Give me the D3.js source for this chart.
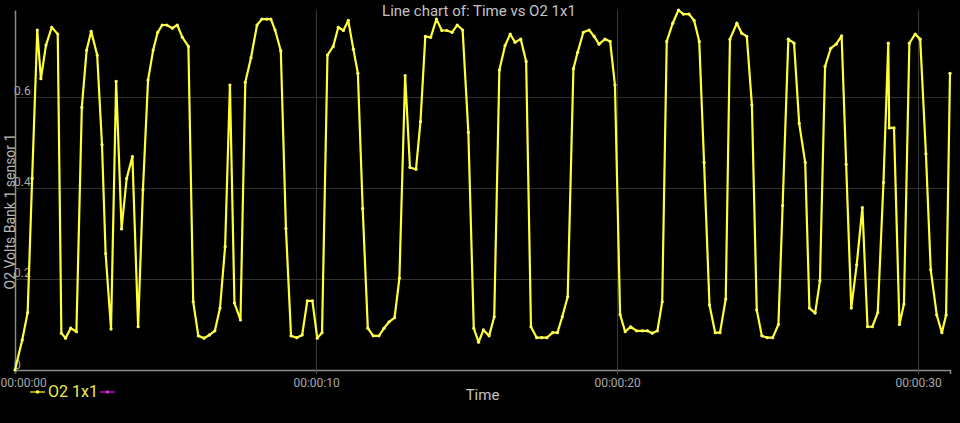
<!DOCTYPE html>
<html><head><meta charset="utf-8">
<script src="https://cdn.jsdelivr.net/npm/d3@7/dist/d3.min.js"></script>
<style>
body{margin:0;background:#000;overflow:hidden;}
svg{display:block;font-family:Roboto, "Noto Sans", sans-serif;}
</style>
</head><body>
<svg id="chart" width="960" height="423"></svg>
<script>
// ---- data ----
const times = [0.00,0.24,0.42,0.57,0.74,0.86,1.03,1.22,1.42,1.54,1.68,1.85,2.04,2.22,2.38,2.53,2.73,2.89,3.01,3.19,
3.36,3.54,3.71,3.90,4.09,4.25,4.42,4.59,4.74,4.89,5.04,5.23,5.39,5.56,5.76,5.92,6.09,6.28,6.46,6.64,
6.81,6.98,7.14,7.29,7.49,7.65,7.84,8.04,8.20,8.36,8.50,8.64,8.83,9.00,9.17,9.36,9.54,9.71,9.88,10.04,
10.20,10.38,10.57,10.74,10.91,11.07,11.24,11.39,11.55,11.72,11.90,12.09,12.26,12.43,12.61,12.77,12.96,13.12,13.32,13.47,
13.63,13.81,14.00,14.18,14.34,14.52,14.69,14.87,15.06,15.24,15.40,15.56,15.75,15.92,16.09,16.28,16.45,16.61,16.80,16.98,
17.14,17.33,17.50,17.67,17.86,18.02,18.18,18.36,18.55,18.69,18.88,19.07,19.24,19.40,19.60,19.77,19.93,20.10,20.27,20.45,
20.65,20.84,21.01,21.17,21.34,21.50,21.65,21.85,22.04,22.20,22.39,22.56,22.73,22.89,23.07,23.26,23.42,23.61,23.75,23.98,
24.14,24.31,24.48,24.64,24.81,24.99,25.17,25.36,25.50,25.69,25.88,26.05,26.25,26.39,26.58,26.74,26.91,27.10,27.28,27.46,
27.61,27.78,27.96,28.15,28.32,28.48,28.66,28.85,29.01,29.04,29.20,29.38,29.53,29.71,29.90,30.07,30.26,30.42,30.62,30.79,
30.93,31.06];
const o2Values = [0.000,0.066,0.126,0.421,0.747,0.640,0.714,0.753,0.738,0.081,0.070,0.092,0.084,0.577,0.703,0.744,0.692,0.495,0.256,0.090,
0.634,0.310,0.421,0.469,0.095,0.396,0.637,0.703,0.742,0.758,0.758,0.751,0.758,0.731,0.711,0.150,0.075,0.070,0.077,0.086,
0.136,0.271,0.626,0.147,0.110,0.632,0.686,0.758,0.771,0.771,0.771,0.747,0.701,0.311,0.075,0.071,0.077,0.152,0.152,0.070,
0.082,0.692,0.711,0.753,0.746,0.768,0.705,0.652,0.355,0.092,0.075,0.075,0.092,0.106,0.115,0.202,0.647,0.445,0.441,0.546,
0.733,0.731,0.771,0.746,0.746,0.742,0.758,0.747,0.522,0.092,0.061,0.088,0.075,0.117,0.659,0.713,0.738,0.720,0.727,0.678,
0.095,0.071,0.071,0.071,0.082,0.082,0.117,0.161,0.662,0.698,0.742,0.747,0.733,0.716,0.727,0.722,0.626,0.122,0.084,0.095,
0.086,0.086,0.086,0.081,0.086,0.150,0.722,0.762,0.791,0.782,0.782,0.768,0.722,0.456,0.143,0.082,0.082,0.156,0.727,0.762,
0.740,0.733,0.582,0.132,0.075,0.071,0.071,0.100,0.361,0.727,0.718,0.542,0.456,0.136,0.125,0.196,0.667,0.707,0.716,0.734,
0.452,0.136,0.231,0.357,0.095,0.095,0.126,0.412,0.718,0.532,0.532,0.100,0.145,0.718,0.738,0.727,0.475,0.220,0.121,0.082,
0.121,0.652];
const xTickValues = [0, 10, 20, 30];
const yTickValues = [0, 0.2, 0.4, 0.6];
const seriesNames = ["O2 1x1", ""];
const chartTitle = "Line chart of: Time vs O2 1x1";
const xTitle = "Time";
const yTitle = "O2 Volts Bank 1 sensor 1";

// ---- layout ----
const W = 960, H = 423;
const m = {left: 15, right: 10, top: 10, bottom: 53};
const svg = d3.select("#chart");
svg.append("rect").attr("width", W).attr("height", H).attr("fill", "#000");

const data = times.map((t, i) => ({t, v: o2Values[i]}));
const x = d3.scaleLinear().domain([0, d3.max(times)]).range([m.left, W - m.right]);
const y = d3.scaleLinear().domain([0, d3.max(o2Values)]).range([H - m.bottom, m.top]);

const pad = n => String(n).padStart(2, "0");
const fmtTime = s => `${pad(Math.floor(s / 3600))}:${pad(Math.floor(s / 60) % 60)}:${pad(Math.round(s) % 60)}`;

// grid
const gx = svg.append("g").attr("transform", `translate(0,${H - m.bottom})`)
  .call(d3.axisBottom(x).tickValues(xTickValues.filter(d => d > 0)).tickSize(-(H - m.bottom - m.top)).tickFormat(""));
gx.select(".domain").remove();
gx.selectAll("line").attr("stroke", "#3a3a3a").attr("stroke-width", 1);

const gy = svg.append("g").attr("transform", `translate(${m.left},0)`)
  .call(d3.axisLeft(y).tickValues(yTickValues.filter(d => d > 0)).tickSize(-(W - m.left - m.right)).tickFormat(""));
gy.select(".domain").remove();
gy.selectAll("line").attr("stroke", "#333").attr("stroke-width", 1);

// axes
const ax = svg.append("g").attr("transform", `translate(0,${H - m.bottom})`)
  .call(d3.axisBottom(x).tickValues(xTickValues).tickSize(4).tickPadding(4).tickFormat(fmtTime));
ax.select(".domain").attr("stroke", "#8a8a8a").attr("stroke-width", 1.5);
ax.selectAll(".tick line").attr("stroke", "#555");
ax.selectAll("text").attr("fill", "#a8a8a8").attr("font-size", 12).attr("font-family", "Roboto, sans-serif");
// keep the first label inside the page edge
ax.selectAll(".tick text").filter(d => d === 0).attr("text-anchor", "start").attr("x", 0 - m.left);

const ay = svg.append("g").attr("transform", `translate(${m.left},0)`)
  .call(d3.axisRight(y).tickValues(yTickValues).tickSize(0).tickPadding(-1).tickFormat(d => d === 0 ? "0" : d3.format(".1f")(d)));
ay.select(".domain").attr("stroke", "#8a8a8a").attr("stroke-width", 1.5);
ay.selectAll("text").attr("fill", "#a8a8a8").attr("font-size", 12).attr("dy", "-2px").attr("font-family", "Roboto, sans-serif");

// line
const yellow = "#ffff33";
svg.append("path").datum(data)
  .attr("fill", "none").attr("stroke", yellow).attr("stroke-width", 2.2).attr("stroke-linejoin", "round")
  .attr("d", d3.line().x(d => x(d.t)).y(d => y(d.v)));
svg.append("g").selectAll("circle").data(data).join("circle")
  .attr("cx", d => x(d.t)).attr("cy", d => y(d.v)).attr("r", 1.6).attr("fill", "#ffff66");

// titles
svg.append("text").attr("x", 479).attr("y", 16).attr("text-anchor", "middle")
  .attr("fill", "#c4c4c4").attr("font-size", 15).text(chartTitle);
svg.append("text").attr("x", (m.left + W - m.right) / 2).attr("y", 400).attr("text-anchor", "middle")
  .attr("fill", "#c4c4c4").attr("font-size", 15).text(xTitle);
svg.append("text").attr("transform", `translate(15,${H / 2}) rotate(-90)`).attr("text-anchor", "middle")
  .attr("fill", "#b8b8b8").attr("font-size", 14).text(yTitle);

// legend (placed just right of the first time label)
const legColors = [yellow, "#e020e0"];
const leg = svg.append("g");
const lx = [30, 100];
const ly = 392;
legColors.forEach((c, i) => {
  leg.append("line").attr("x1", lx[i]).attr("x2", lx[i] + 15).attr("y1", ly).attr("y2", ly)
    .attr("stroke", c).attr("stroke-width", 1.2);
  leg.append("circle").attr("cx", lx[i] + 7.5).attr("cy", ly).attr("r", 1.8).attr("fill", c);
  if (seriesNames[i]) leg.append("text").attr("x", lx[i] + 18).attr("y", ly + 5)
    .attr("fill", "#eeee44").attr("font-size", 16).text(seriesNames[i]);
});
</script>
</body></html>
